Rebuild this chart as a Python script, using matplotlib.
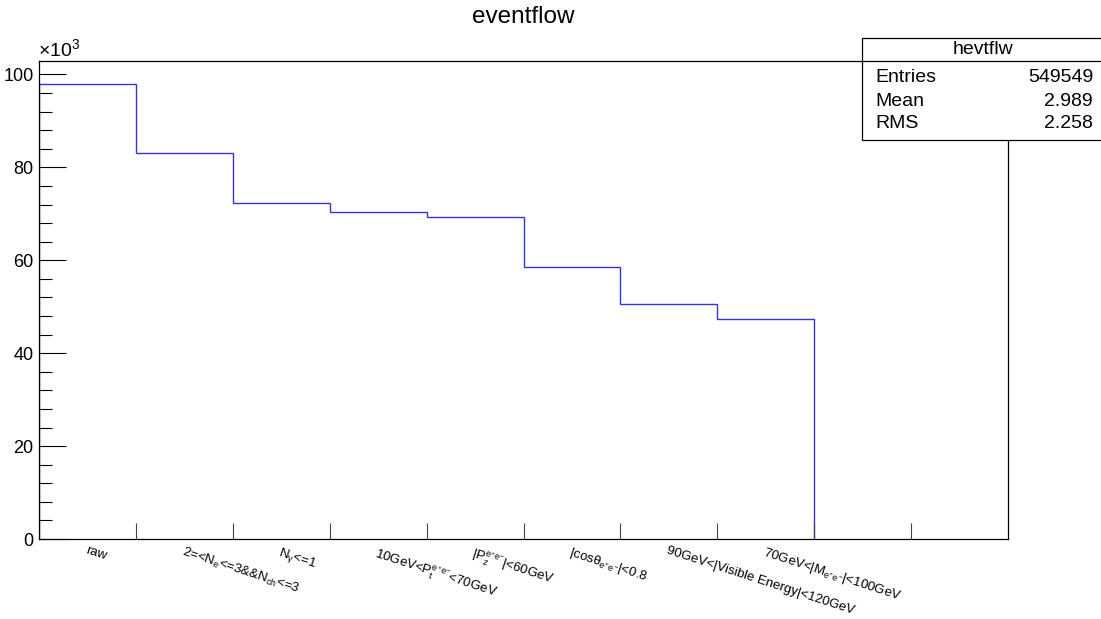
import numpy as np
import matplotlib
matplotlib.use("Agg")
import matplotlib.pyplot as plt
from matplotlib.patches import Rectangle
from matplotlib.lines import Line2D
from matplotlib.ticker import MultipleLocator

plt.rcParams['font.family'] = ['Liberation Sans', 'DejaVu Sans']
plt.rcParams['mathtext.fontset'] = 'custom'
plt.rcParams['mathtext.rm'] = 'Liberation Sans'
plt.rcParams['mathtext.it'] = 'Liberation Sans:italic'

# data (thousands of events)
cut_labels = [
    "raw",
    r"2=<$\mathregular{N_{e}}$<=3&&$\mathregular{N_{ch}}$<=3",
    r"$\mathregular{N_{\gamma}}$<=1",
    r"10GeV<$\mathregular{P_{t}^{e^{+}e^{-}}}$<70GeV",
    r"|$\mathregular{P_{z}^{e^{+}e^{-}}}$|<60GeV",
    r"|cos$\mathregular{\theta_{e^{+}e^{-}}}$|<0.8",
    "90GeV<|Visible Energy|<120GeV",
    r"70GeV<|$\mathregular{M_{e^{+}e^{-}}}$|<100GeV",
    "",
    "",
]
counts_k = [98.0, 83.2, 72.3, 70.3, 69.3, 58.5, 50.6, 47.4, 0.0, 0.0]
stats_name = "hevtflw"
stats_rows = [("Entries", "549549"), ("Mean", "2.989"), ("RMS", "2.258")]

W, H = 1101, 619
fig = plt.figure(figsize=(W / 100, H / 100), dpi=100)
ax = fig.add_axes([39 / W, 1 - 539 / H, (1008 - 39) / W, (539 - 61) / H])

nb = len(counts_k)
edges = np.arange(nb + 1) - 0.5
nz = max(i for i, v in enumerate(counts_k) if v > 0) + 1
ax.stairs(counts_k[:nz], edges[:nz + 1], color=(0.2, 0.2, 0.85), linewidth=1.0,
          baseline=0, fill=False, zorder=1)

ax.set_xlim(edges[0], edges[-1])
ax.set_ylim(0, max(counts_k) * 1.05)

ax.yaxis.set_major_locator(MultipleLocator(20))
ax.yaxis.set_minor_locator(MultipleLocator(4))
ax.tick_params(axis='y', which='major', direction='in', length=19.5, width=0.8,
               labelsize=13, pad=4, colors='black')
ax.tick_params(axis='y', which='minor', direction='in', length=9.5, width=0.8, color='black')
ax.set_xticks(edges[1:-1])
ax.set_xticklabels([])
ax.tick_params(axis='x', which='major', direction='in', length=11.5, width=0.8, color='#444444')
for s in ax.spines.values():
    s.set_linewidth(0.9)
    s.set_zorder(3)

# rotated cut labels, starting at bin centers
for i, lab in enumerate(cut_labels):
    if lab:
        ax.text(i, -1.2, lab, rotation=-18, rotation_mode='anchor', ha='left', va='top',
                fontsize=9.5, transform=ax.transData, clip_on=False)

fig.text(38 / W, 1 - 56 / H, r"$\mathregular{\times10^{3}}$", fontsize=14, ha='left', va='baseline')
fig.text(523 / W, 1 - 17 / H, "eventflow", fontsize=17.5, ha='center', va='center')

# stats box
x0 = 862 / W
y0, y1 = 1 - 140 / H, 1 - 38 / H
fig.patches.append(Rectangle((x0, y0), 1.2 - x0, y1 - y0, transform=fig.transFigure,
                             facecolor='white', edgecolor='black', linewidth=0.9, zorder=5))
fig.lines.append(Line2D([x0, 1.0], [1 - 61 / H, 1 - 61 / H], transform=fig.transFigure,
                        color='black', linewidth=0.9, zorder=6))
fig.text(983 / W, 1 - 50 / H, stats_name, fontsize=14, ha='center', va='center', zorder=7)
for k, (name, val) in enumerate(stats_rows):
    yy = 1 - (78 + 23 * k) / H
    fig.text(875 / W, yy, name, fontsize=14, ha='left', va='center', zorder=7)
    fig.text(1093 / W, yy, val, fontsize=14, ha='right', va='center', zorder=7)

fig.savefig("out.png", dpi=100)
